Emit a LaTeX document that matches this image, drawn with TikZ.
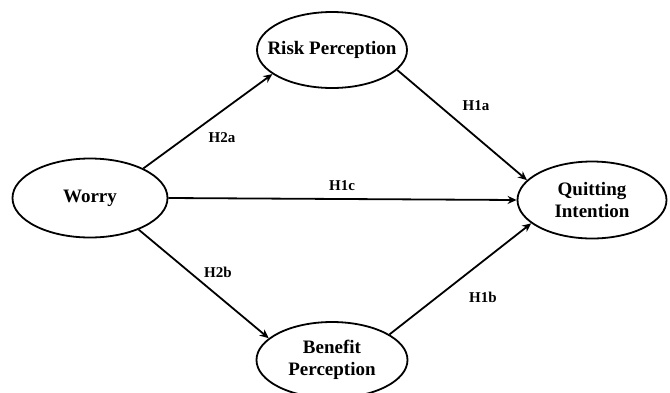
\documentclass[tikz,border=0pt]{standalone}
\usepackage{fontspec}
\setmainfont{Liberation Serif}
\usetikzlibrary{shapes.geometric, arrows.meta, positioning}
\tikzstyle{construct} = [ellipse, line width=1.8pt, draw=black, inner sep=0pt]
\tikzstyle{ctext} = [font=\fontsize{19}{22}\selectfont\bfseries, align=center]
\tikzstyle{link} = [line width=1.8pt, -{Stealth[length=9pt, width=8pt]}]
\tikzstyle{hyp} = [font=\fontsize{15}{18}\selectfont\bfseries]

\begin{document}
\begin{tikzpicture}[x=1pt, y=-1pt]
	\useasboundingbox (0,0) rectangle (670,392);
	\node (Worry) [construct, minimum width=155pt, minimum height=79pt, label={[ctext]center:Worry}] at (90,198) {};
	\node (Risk) [construct, minimum width=150pt, minimum height=76pt, label={[ctext]center:Risk Perception}] at (332,50) {};
	\node (Benefit) [construct, minimum width=151pt, minimum height=76pt, label={[ctext]center:{Benefit\\Perception}}] at (332,360) {};
	\node (Quit) [construct, minimum width=149pt, minimum height=77pt, label={[ctext]center:{Quitting\\Intention}}] at (592,200) {};
	\draw [link] (Worry.29) -- (Risk.202);
	\draw [link] (Worry.east) -- (Quit.west);
	\draw [link] (Worry.-33) -- (Benefit.161);
	\draw [link] (Risk.-17) -- (Quit.163);
	\draw [link] (Benefit.24) -- (Quit.201);
	\node (H2a) [hyp] at (222,138) {H2a};
	\node (H1a) [hyp] at (476,106) {H1a};
	\node (H1c) [hyp] at (342,186) {H1c};
	\node (H2b) [hyp] at (218,272) {H2b};
	\node (H1b) [hyp] at (483,297) {H1b};
\end{tikzpicture}
\end{document}
